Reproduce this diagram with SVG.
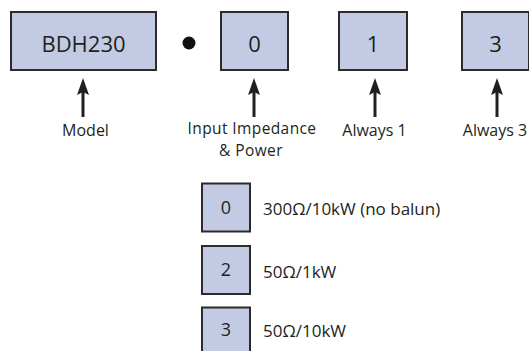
<svg xmlns="http://www.w3.org/2000/svg" width="529" height="351" viewBox="0 0 529 351">
<style>
.box{fill:#c2cbe3;stroke:#2b2b2b;stroke-width:2}
.t{font-family:"Open Sans","Noto Sans",sans-serif;fill:#231f20}
.big{font-size:22px;text-anchor:middle}
.lbl{font-size:16px;text-anchor:middle}
.lbl2{font-size:15.5px;letter-spacing:0.4px;text-anchor:middle}
.lg{font-size:17px}
.shaft{stroke:#231f20;stroke-width:3;fill:none}
.head{fill:#231f20}
</style>
<rect width="529" height="351" fill="#ffffff"/>
<g id="node-bdh230"><rect class="box" x="11" y="12" width="145" height="58"/><text class="t big" x="83.5" y="52">BDH230</text></g>
<g id="node-dot"><circle cx="189" cy="43" r="6.5" fill="#111"/></g>
<g id="node-0"><rect class="box" x="221" y="12" width="67" height="58"/><text class="t big" x="254.5" y="52">0</text></g>
<g id="node-1"><rect class="box" x="339" y="12" width="68" height="58"/><text class="t big" x="373" y="52">1</text></g>
<g id="node-3"><rect class="box" x="462" y="12" width="67" height="58"/><text class="t big" x="495.5" y="52">3</text></g>
<g id="connectors">
<line class="shaft" x1="83" y1="88" x2="83" y2="117"/><path class="head" d="M83,78 L89,95 L83,92 L77,95 Z"/>
<line class="shaft" x1="254" y1="88" x2="254" y2="117"/><path class="head" d="M254,78 L260,95 L254,92 L248,95 Z"/>
<line class="shaft" x1="375" y1="88" x2="375" y2="117"/><path class="head" d="M375,78 L381,95 L375,92 L369,95 Z"/>
<line class="shaft" x1="497" y1="88" x2="497" y2="117"/><path class="head" d="M497,78 L503,95 L497,92 L491,95 Z"/>
</g>
<g id="label-model"><text class="t lbl" x="85.5" y="136">Model</text></g>
<g id="label-input"><text class="t lbl2" x="252" y="134"><tspan x="252" y="134">Input Impedance</tspan><tspan x="251" y="155.5">&amp; Power</tspan></text></g>
<g id="label-always1"><text class="t lbl" x="374.5" y="136">Always 1</text></g>
<g id="label-always3"><text class="t lbl" x="495" y="136">Always 3</text></g>
<g id="legend-0"><rect class="box" x="202" y="183.5" width="48" height="48"/><text class="t big" style="font-size:18px" x="226" y="214">0</text><text class="t lg" x="263" y="215">300Ω/10kW (no balun)</text></g>
<g id="legend-2"><rect class="box" x="202" y="246" width="48" height="48"/><text class="t big" style="font-size:18px" x="226" y="276">2</text><text class="t lg" x="263" y="278">50Ω/1kW</text></g>
<g id="legend-3"><rect class="box" x="202" y="307.5" width="48" height="48"/><text class="t big" style="font-size:18px" x="226" y="336">3</text><text class="t lg" x="263" y="337">50Ω/10kW</text></g>
</svg>
